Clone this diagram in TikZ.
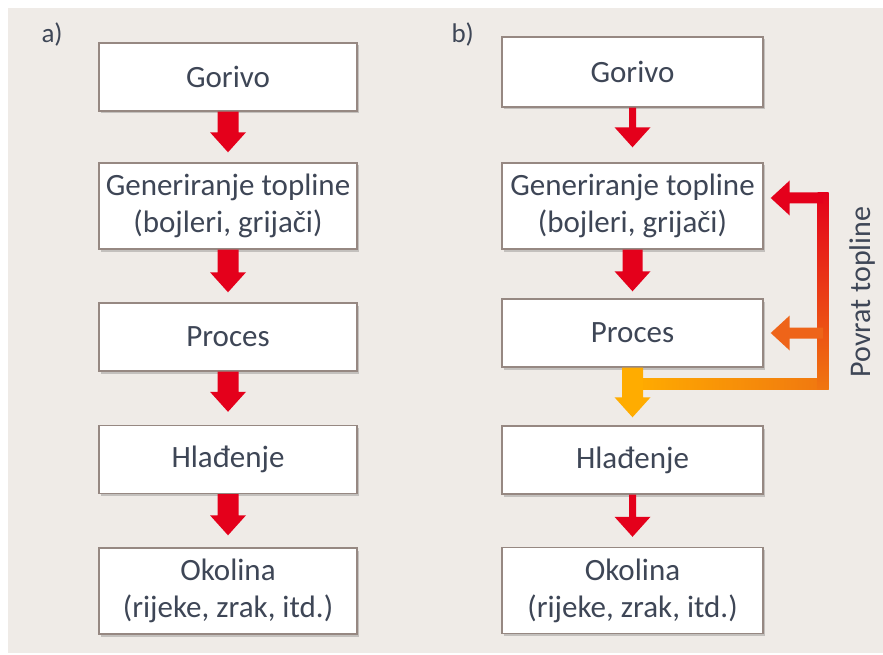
\documentclass[tikz,border=0pt]{standalone}
\usepackage{fontspec}
\setmainfont{Carlito}
\usetikzlibrary{calc,shadows}

\definecolor{bgcol}{RGB}{239,235,231}
\definecolor{boxline}{RGB}{150,136,130}
\definecolor{txt}{RGB}{62,70,86}
\definecolor{redA}{RGB}{228,0,27}
\definecolor{orangeA}{RGB}{240,118,16}
\definecolor{orangeB}{RGB}{238,100,25}
\definecolor{amberA}{RGB}{255,172,0}

% Block arrow pointing down from node #2 to node #3.
% #1 colour, #4 gap above the target node, #5 half shaft width (pt)
\newcommand{\downflow}[5]{%
  \fill[#1] let \p1=(#2.south), \p2=(#3.north) in
    (\x1-#5pt,\y1) -- (\x1+#5pt,\y1) -- (\x1+#5pt,\y2+#4pt+20pt)
    -- (\x1+18pt,\y2+#4pt+20pt) -- (\x1,\y2+#4pt)
    -- (\x1-18pt,\y2+#4pt+20pt) -- (\x1-#5pt,\y2+#4pt+20pt) -- cycle;}

% Block arrow pointing left from coordinate #2 to coordinate #3 (tip).
\newcommand{\leftflow}[3]{%
  \fill[#1] let \p1=(#2), \p2=(#3) in
    (\x1,\y1+5.5pt) -- (\x2+19pt,\y1+5.5pt) -- (\x2+19pt,\y2+17.5pt)
    -- (\x2,\y2) -- (\x2+19pt,\y2-17.5pt) -- (\x2+19pt,\y1-5.5pt)
    -- (\x1,\y1-5.5pt) -- cycle;}

\begin{document}
\begin{tikzpicture}[x=1pt,y=-1pt,
  every node/.style={text=txt, font=\fontsize{31}{37}\selectfont},
  box/.style={draw=boxline, line width=1.4pt, fill=white, minimum width=258pt,
    inner sep=0pt, align=center,
    drop shadow={shadow xshift=1.5pt, shadow yshift=-2.5pt, fill=black, opacity=0.18}},
  short/.style={box, minimum height=68pt},
  tall/.style={box, minimum height=86pt},
  wide/.style={minimum width=261pt},
]
\useasboundingbox (0,0) rectangle (883,655);
\fill[bgcol] (8,8) rectangle (883,653);

% panel labels
\node[anchor=base west, font=\fontsize{27}{32}\selectfont] (la) at (38,43) {a)};
\node[anchor=base west, font=\fontsize{27}{32}\selectfont] (lb) at (448,43) {b)};

% column a)
\node[short] (g1)  at (228,77)    {Gorivo};
\node[tall]  (gt1) at (228,206)   {Generiranje topline\\(bojleri, grijači)};
\node[short] (p1)  at (228,337)   {Proces};
\node[short] (h1)  at (228,459.5) {Hlađenje};
\node[tall]  (o1)  at (228,591)   {Okolina\\(rijeke, zrak, itd.)};

\downflow{redA}{g1}{gt1}{10}{10.5}
\downflow{redA}{gt1}{p1}{10}{10.5}
\downflow{redA}{p1}{h1}{13}{10.5}
\downflow{redA}{h1}{o1}{12}{10.5}

% column b)
\node[short, wide, minimum height=70pt] (g2) at (632.5,72) {Gorivo};
\node[tall, wide]  (gt2) at (632.5,206)   {Generiranje topline\\(bojleri, grijači)};
\node[short, wide] (p2)  at (632.5,333)   {Proces};
\node[short, wide] (h2)  at (632.5,460)   {Hlađenje};
\node[tall, wide]  (o2)  at (632.5,590.5) {Okolina\\(rijeke, zrak, itd.)};

\downflow{redA}{g2}{gt2}{15}{3.5}
\downflow{redA}{gt2}{p2}{7}{10}
\downflow{redA}{h2}{o2}{10}{3.5}

% heat recovery loop
\coordinate (rB) at (823,384);
\coordinate (rM) at (823,333);
\coordinate (rT) at (823,198);
\coordinate (lB) at (633.5,384);
\coordinate (tipT) at ($(gt2.east)+(7,-8)$);
\coordinate (tipM) at ($(p2.east)+(7,0)$);

\shade[left color=amberA, right color=orangeA]
  ($(lB)+(0,-5.5)$) rectangle ($(rB)+(5.5,5.5)$);
\shade[top color=redA, bottom color=orangeA]
  ($(rT)+(-5.5,-5.5)$) rectangle ($(rB)+(5.5,5.5)$);
\leftflow{redA}{rT}{tipT}
\leftflow{orangeB}{rM}{tipM}
\downflow{amberA}{p2}{h2}{8}{10.5}

\node[rotate=90, anchor=base, font=\fontsize{30}{36}\selectfont] (loop) at (870,292) {Povrat topline};
\end{tikzpicture}
\end{document}
